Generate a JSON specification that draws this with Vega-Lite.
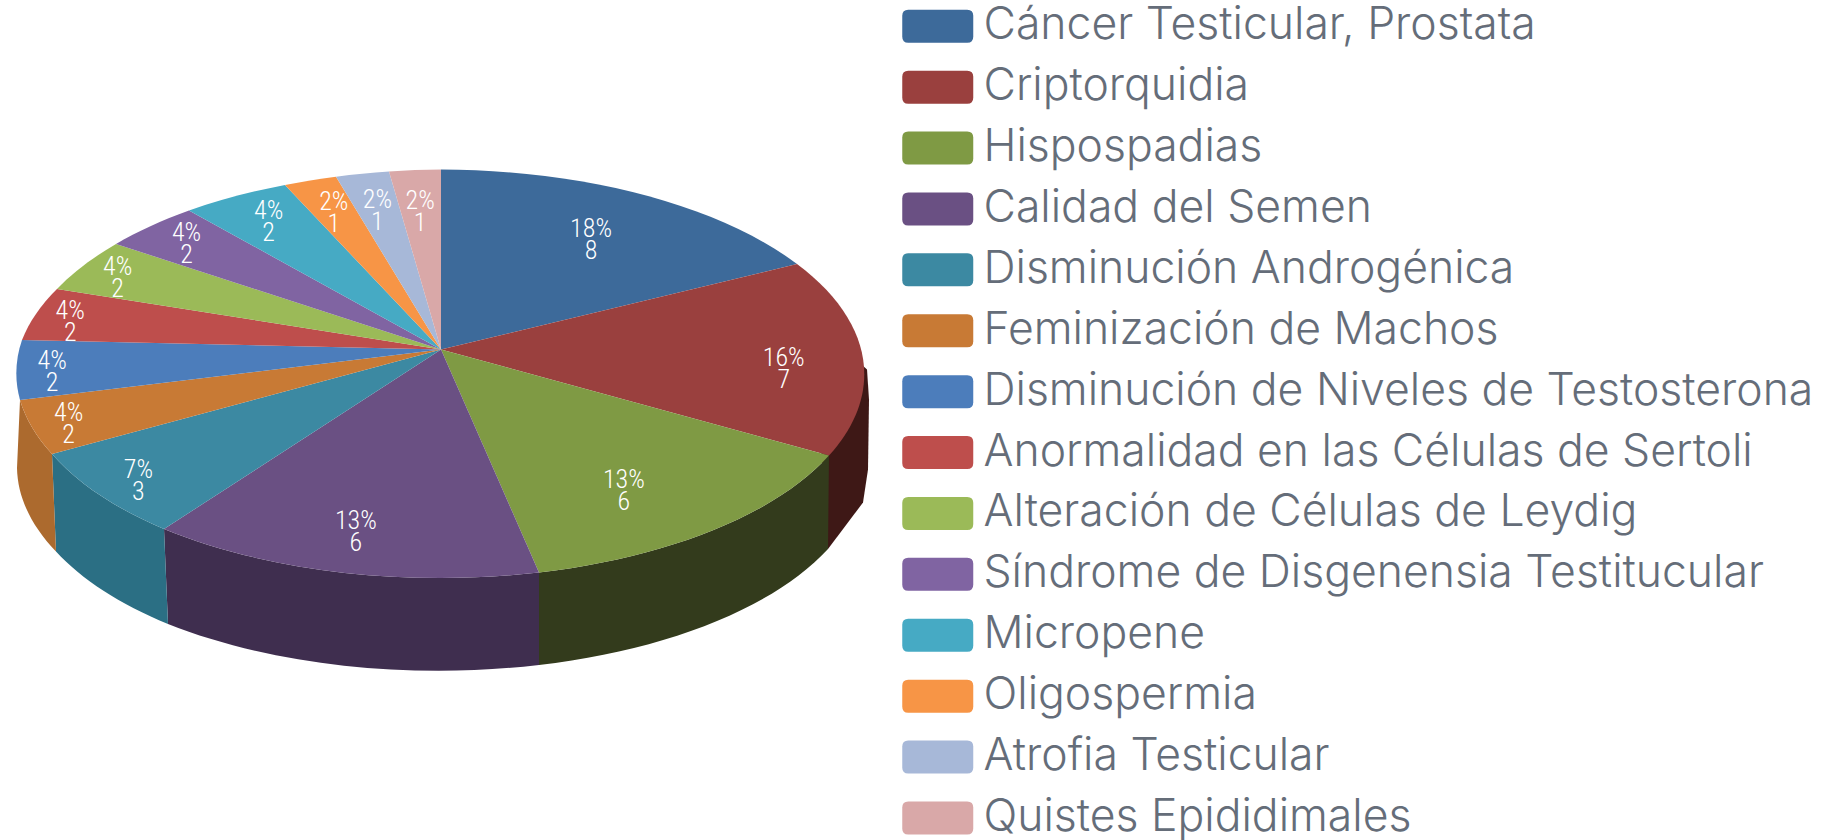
{"$schema":"https://vega.github.io/schema/vega-lite/v6.json","width":1827,"height":840,"padding":0,"autosize":{"type":"none"},"background":"white","config":{"view":{"stroke":null}},
"data":{"values":[
{"order":1,"name":"Cáncer Testicular, Prostata","count":8},
{"order":2,"name":"Criptorquidia","count":7},
{"order":3,"name":"Hispospadias","count":6},
{"order":4,"name":"Calidad del Semen","count":6},
{"order":5,"name":"Disminución Androgénica","count":3},
{"order":6,"name":"Feminización de Machos","count":2},
{"order":7,"name":"Disminución de Niveles de Testosterona","count":2},
{"order":8,"name":"Anormalidad en las Células de Sertoli","count":2},
{"order":9,"name":"Alteración de Células de Leydig","count":2},
{"order":10,"name":"Síndrome de Disgenensia Testitucular","count":2},
{"order":11,"name":"Micropene","count":2},
{"order":12,"name":"Oligospermia","count":1},
{"order":13,"name":"Atrofia Testicular","count":1},
{"order":14,"name":"Quistes Epididimales","count":1}]},
"layer":[
{"transform":[{"filter":{"field":"name","oneOf":["Criptorquidia","Hispospadias","Calidad del Semen","Disminución Androgénica","Feminización de Machos"]}}],
"mark":{"type":"point","filled":true,"opacity":1,"strokeWidth":0,"size":4},
"encoding":{
"x":{"datum":0,"type":"quantitative","scale":{"domain":[-441,1386],"nice":false,"zero":false},"axis":null},
"y":{"datum":0,"type":"quantitative","scale":{"domain":[490.5,-349.5],"nice":false,"zero":false},"axis":null},
"color":{"field":"name","type":"nominal","legend":null,"sort":null,"scale":{"domain":["Criptorquidia","Hispospadias","Calidad del Semen","Disminución Androgénica","Feminización de Machos"],"range":["#3E1816","#333B1C","#3F2E4F","#2B6F84","#AC6A2E"]}},
"shape":{"field":"name","type":"nominal","legend":null,"sort":null,"scale":{"domain":["Criptorquidia","Hispospadias","Calidad del Semen","Disminución Androgénica","Feminización de Machos"],"range":[
"M380,100L415,10L426,20L428,50L427,120L422,153L387,199.5Z",
"M388,106A425,204,0,0,1,98,223L98,315.5A425,204,0,0,0,387,199.5Z",
"M98,223A425,204,0,0,1,-277,179.5L-273,274.5A425,204,0,0,0,98,315.5Z",
"M-277,179.5A425,204,0,0,1,-389,104.5L-385,202A425,204,0,0,0,-273,274.5Z",
"M-389,104.5A425,204,0,0,1,-421,50.5L-424,118.5A425,204,0,0,0,-385,202Z"]}}}},
{"mark":{"type":"point","filled":true,"opacity":1,"strokeWidth":0,"size":4},
"encoding":{
"x":{"datum":0,"type":"quantitative","scale":{"domain":[-441,1386],"nice":false,"zero":false},"axis":null},
"y":{"datum":0,"type":"quantitative","scale":{"domain":[490.5,-349.5],"nice":false,"zero":false},"axis":null},
"color":{"field":"name","type":"nominal","sort":null,"legend":null,"scale":{"domain":["Cáncer Testicular, Prostata","Criptorquidia","Hispospadias","Calidad del Semen","Disminución Androgénica","Feminización de Machos","Disminución de Niveles de Testosterona","Anormalidad en las Células de Sertoli","Alteración de Células de Leydig","Síndrome de Disgenensia Testitucular","Micropene","Oligospermia","Atrofia Testicular","Quistes Epididimales"],"range":["#3D6A9A","#9A403E","#7F9A44","#6A5083","#3C89A2","#C87A35","#4C7DBB","#BE4E4C","#9BBA58","#8064A2","#46AAC4","#F79546","#A7B8D8","#D9A8A8"]}},
"shape":{"field":"name","type":"nominal","legend":null,"sort":null,"scale":{"domain":["Cáncer Testicular, Prostata","Criptorquidia","Hispospadias","Calidad del Semen","Disminución Androgénica","Feminización de Machos","Disminución de Niveles de Testosterona","Anormalidad en las Células de Sertoli","Alteración de Células de Leydig","Síndrome de Disgenensia Testitucular","Micropene","Oligospermia","Atrofia Testicular","Quistes Epididimales"],"range":[
"M0,0L0,-180A425,204,0,0,1,356,-85.5Z",
"M0,0L356,-85.5A425,204,0,0,1,388,106Z",
"M0,0L388,106A425,204,0,0,1,98,223Z",
"M0,0L98,223A425,204,0,0,1,-277,179.5Z",
"M0,0L-277,179.5A425,204,0,0,1,-389,104.5Z",
"M0,0L-389,104.5A425,204,0,0,1,-421,50.5Z",
"M0,0L-421,50.5A425,204,0,0,1,-419,-9.5Z",
"M0,0L-419,-9.5A425,204,0,0,1,-384,-60.5Z",
"M0,0L-384,-60.5A425,204,0,0,1,-325,-105.5Z",
"M0,0L-325,-105.5A425,204,0,0,1,-252,-139Z",
"M0,0L-252,-139A425,204,0,0,1,-156,-164.5Z",
"M0,0L-156,-164.5A425,204,0,0,1,-105,-172.8Z",
"M0,0L-105,-172.8A425,204,0,0,1,-52,-178Z",
"M0,0L-52,-178A425,204,0,0,1,0,-180Z"]}}}},
{"mark":{"type":"point","filled":true,"opacity":1,"strokeWidth":0,"size":0},
"encoding":{
"x":{"datum":0,"type":"quantitative","scale":{"domain":[-441,1386],"nice":false,"zero":false},"axis":null},
"y":{"datum":0,"type":"quantitative","scale":{"domain":[490.5,-349.5],"nice":false,"zero":false},"axis":null},
"color":{"field":"name","type":"nominal","sort":null,"scale":{"domain":["Cáncer Testicular, Prostata","Criptorquidia","Hispospadias","Calidad del Semen","Disminución Androgénica","Feminización de Machos","Disminución de Niveles de Testosterona","Anormalidad en las Células de Sertoli","Alteración de Células de Leydig","Síndrome de Disgenensia Testitucular","Micropene","Oligospermia","Atrofia Testicular","Quistes Epididimales"],"range":["#3D6A9A","#9A403E","#7F9A44","#6A5083","#3C89A2","#C87A35","#4C7DBB","#BE4E4C","#9BBA58","#8064A2","#46AAC4","#F79546","#A7B8D8","#D9A8A8"]},
"legend":{"title":null,"orient":"none","legendX":915.5,"legendY":4,"symbolType":"M-35.5,-10.5Q-35.5,-16.5,-29.5,-16.5L29.5,-16.5Q35.5,-16.5,35.5,-10.5L35.5,10.5Q35.5,16.5,29.5,16.5L-29.5,16.5Q-35.5,16.5,-35.5,10.5Z","symbolSize":4,"symbolStrokeWidth":0,"symbolOpacity":1,"labelFont":"Inter","labelFontWeight":300,"labelFontSize":44.5,"labelColor":"#656D79","labelOffset":23.5,"labelLimit":900,"rowPadding":15.9,"columns":1}}}},
{"transform":[
{"joinaggregate":[{"op":"sum","field":"count","as":"total"}]},
{"window":[{"op":"sum","field":"count","as":"cum"}],"sort":[{"field":"order"}]},
{"calculate":"(datum.cum-datum.count/2)/datum.total*360","as":"t0"},
{"calculate":"(datum.t0+5*exp(-pow((datum.t0-120)/50,2)))*PI/180","as":"th"},
{"calculate":"0.78+0.13*cos((datum.t0-260)*PI/180)+0.15*exp(-pow((datum.t0-92)/40,2))","as":"k"},
{"calculate":"1+0.1176*datum.k*cos(datum.th)","as":"den"},
{"calculate":"425*datum.k*sin(datum.th)/datum.den","as":"lx"},
{"calculate":"-201*datum.k*cos(datum.th)/datum.den","as":"ly"},
{"calculate":"round(datum.count/datum.total*100)+'%'","as":"pct"}],
"encoding":{
"x":{"field":"lx","type":"quantitative","scale":{"domain":[-441,1386],"nice":false,"zero":false},"axis":null},
"y":{"field":"ly","type":"quantitative","scale":{"domain":[490.5,-349.5],"nice":false,"zero":false},"axis":null}},
"layer":[
{"mark":{"type":"text","font":"Roboto Condensed","fontWeight":300,"color":"#ffffff","baseline":"middle","align":"center","dy":-8},
"encoding":{"text":{"field":"pct"},
"size":{"field":"count","type":"ordinal","legend":null,"scale":{"domain":[1,2,3,6,7,8],"range":[26,26,29,33,29,29]}}}},
{"mark":{"type":"text","font":"Roboto Condensed","fontWeight":300,"color":"#ffffff","baseline":"middle","align":"center","dy":14},
"encoding":{"text":{"field":"count"},
"size":{"field":"count","type":"ordinal","legend":null,"scale":{"domain":[1,2,3,6,7,8],"range":[21,21,23,26,26,26]}}}}]}
],
"resolve":{"scale":{"color":"independent","shape":"independent"}}}
